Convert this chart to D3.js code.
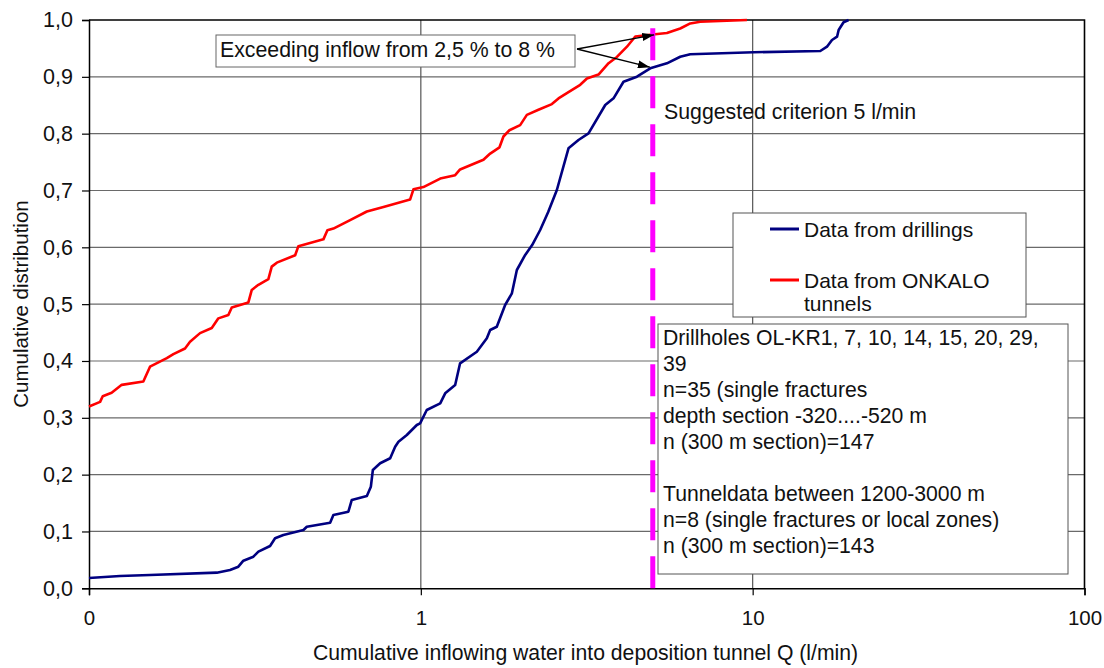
<!DOCTYPE html>
<html><head><meta charset="utf-8">
<script src="https://cdn.jsdelivr.net/npm/d3@7"></script>
<style>
body{margin:0;background:#fff}
svg{display:block}
text{font-family:"Liberation Sans",Arial,Helvetica,sans-serif;fill:#111}
</style>
</head><body>
<svg id="c" width="1104" height="668"></svg>
<script>
// ---------- data ----------
const drillQ = [0.1,0.124,0.1527,0.2427,0.2661,0.2819,0.2919,0.3129,0.324,0.3513,0.3637,0.3852,0.4428,0.4533,0.5329,0.5451,0.6048,0.6194,0.6876,0.707,0.7168,0.7541,0.8084,0.8368,0.8563,0.9074,0.9725,0.995,1.042,1.144,1.184,1.269,1.313,1.475,1.581,1.618,1.694,1.795,1.881,1.947,2.063,2.165,2.289,2.42,2.57,2.786,2.986,3.201,3.595,3.808,4.081,4.479,4.913,5.515,6.049,6.485,10.06,15.99,16.75,17.34,17.96,18.16,18.79,19.46];
const drillF = [0.018,0.0216,0.0234,0.0275,0.0322,0.038,0.0486,0.0556,0.0644,0.0744,0.088,0.0938,0.1026,0.1084,0.1154,0.129,0.1348,0.1554,0.1624,0.1788,0.2082,0.22,0.2288,0.2492,0.258,0.2698,0.2874,0.2903,0.3137,0.3255,0.3431,0.3577,0.3959,0.4163,0.4399,0.4545,0.4603,0.4985,0.5191,0.5601,0.5865,0.604,0.6305,0.6621,0.7009,0.7742,0.7888,0.8006,0.8504,0.8622,0.8914,0.9002,0.915,0.9238,0.9354,0.9396,0.9432,0.9455,0.953,0.9648,0.9706,0.9824,0.996,1.0];
const tunnelQ = [0.1,0.108,0.11,0.117,0.1255,0.1458,0.1527,0.1716,0.1796,0.1947,0.2016,0.2161,0.2344,0.2454,0.263,0.2693,0.3022,0.3094,0.324,0.3472,0.3554,0.3681,0.4181,0.4276,0.5086,0.5229,0.5451,0.6122,0.6876,0.7716,0.928,0.95,1.018,1.144,1.269,1.313,1.544,1.618,1.726,1.774,1.849,1.992,2.087,2.262,2.483,2.599,2.786,3.022,3.166,3.431,3.679,3.899,4.18,4.428,4.913,5.515,6.049,6.485,6.95,9.61];
const tunnelF = [0.32,0.328,0.338,0.344,0.358,0.364,0.39,0.405,0.412,0.422,0.434,0.449,0.458,0.475,0.481,0.494,0.503,0.525,0.534,0.544,0.566,0.573,0.586,0.602,0.614,0.63,0.633,0.648,0.663,0.671,0.684,0.702,0.706,0.721,0.727,0.737,0.754,0.765,0.776,0.795,0.806,0.815,0.833,0.842,0.852,0.862,0.873,0.886,0.897,0.904,0.924,0.935,0.953,0.971,0.974,0.977,0.985,0.994,0.997,1.0];
const seriesNames = ["Data from drillings", "Data from ONKALO", "tunnels"];
const seriesColors = ["#000080", "#ff0000"];
const xTicks = [0.1, 1, 10, 100];
const xTickLabels = ["0", "1", "10", "100"];
const yTicks = [0,0.1,0.2,0.3,0.4,0.5,0.6,0.7,0.8,0.9,1.0];
const yTickLabels = ["0,0","0,1","0,2","0,3","0,4","0,5","0,6","0,7","0,8","0,9","1,0"];
const criterionQ = 5;
const criterionTop = 0.9865;
const arrowTargets = [[5.05, 0.974], [4.9, 0.917]];
const xTitle = "Cumulative inflowing water into deposition tunnel Q (l/min)";
const yTitle = "Cumulative distribution";
const annotationText = "Exceeding inflow from 2,5 % to 8 %";
const criterionText = "Suggested criterion 5 l/min";
const noteLines = ["Drillholes OL-KR1, 7, 10, 14, 15, 20, 29,","39","n=35 (single fractures","depth section -320....-520 m","n (300 m section)=147","","Tunneldata between 1200-3000 m","n=8 (single fractures or local zones)","n (300 m section)=143"];

// ---------- layout ----------
const L = 89, R = 1084.5, T = 20, B = 588.3;
const svg = d3.select("#c");
const x = d3.scaleLog().domain([0.1, 100]).range([L, R]);
const y = d3.scaleLinear().domain([0, 1]).range([B, T]);
const FF = "'Liberation Sans',Arial,sans-serif";

// gridlines
svg.append("g").selectAll("line").data(yTicks.filter(v => v > 0 && v < 1)).join("line")
  .attr("x1", L).attr("x2", R).attr("y1", d => y(d)).attr("y2", d => y(d))
  .attr("stroke", "#6a6a6a").attr("stroke-width", 1.2);
svg.append("g").selectAll("line").data(xTicks.filter(v => v > 0.1 && v < 100)).join("line")
  .attr("y1", T).attr("y2", B).attr("x1", d => x(d)).attr("x2", d => x(d))
  .attr("stroke", "#555").attr("stroke-width", 1.2);

// axes
const xAxis = d3.axisBottom(x).tickValues(xTicks).tickFormat((d, i) => xTickLabels[i]).tickSize(7).tickPadding(15);
const gx = svg.append("g").attr("transform", `translate(0,${B})`).call(xAxis);
gx.select(".domain").attr("stroke", "#000").attr("stroke-width", 1.5);
gx.selectAll(".tick line").attr("stroke", "#000").attr("stroke-width", 1.2);
gx.selectAll("text").attr("font-size", 20.5).attr("fill", "#111").style("font-family", FF);

const yAxis = d3.axisLeft(y).tickValues(yTicks).tickFormat((d, i) => yTickLabels[i]).tickSize(7).tickPadding(9);
const gy = svg.append("g").attr("transform", `translate(${L},0)`).call(yAxis);
gy.select(".domain").attr("stroke", "#000").attr("stroke-width", 1.5);
gy.selectAll(".tick line").attr("stroke", "#000").attr("stroke-width", 1.2);
gy.selectAll("text").attr("font-size", 21.5).attr("fill", "#111").style("font-family", FF);

// frame top/right
svg.append("path").attr("d", `M${L},${T}H${R}V${B}`).attr("fill", "none").attr("stroke", "#000").attr("stroke-width", 1.6);

// curves
const line = d3.line().x(d => x(d[0])).y(d => y(d[1]));
const drill = drillQ.map((q, i) => [q, drillF[i]]);
const tunnel = tunnelQ.map((q, i) => [q, tunnelF[i]]);
svg.append("path").datum(drill).attr("d", line).attr("fill", "none")
  .attr("stroke", seriesColors[0]).attr("stroke-width", 2.6).attr("stroke-linejoin", "round");
svg.append("path").datum(tunnel).attr("d", line).attr("fill", "none")
  .attr("stroke", seriesColors[1]).attr("stroke-width", 2.6).attr("stroke-linejoin", "round");

// criterion line
svg.append("path").datum([[criterionQ, 0], [criterionQ, criterionTop]]).attr("d", line)
  .attr("fill", "none").attr("stroke", "#ff00ff").attr("stroke-width", 5).attr("stroke-dasharray", "32,16");

// annotation box + arrows
const defs = svg.append("defs");
defs.append("marker").attr("id", "ah").attr("viewBox", "0 0 12 8").attr("refX", 12).attr("refY", 4)
  .attr("markerWidth", 12).attr("markerHeight", 8).attr("markerUnits", "userSpaceOnUse").attr("orient", "auto")
  .append("path").attr("d", "M0,0L12,4L0,8z").attr("fill", "#000");
const ax0 = 577, ay0 = 49;
svg.append("g").selectAll("line").data(arrowTargets).join("line")
  .attr("x1", ax0).attr("y1", ay0).attr("x2", d => x(d[0])).attr("y2", d => y(d[1]))
  .attr("stroke", "#000").attr("stroke-width", 1.3).attr("marker-end", "url(#ah)");
svg.append("rect").attr("x", 216).attr("y", 35).attr("width", 359).attr("height", 32)
  .attr("fill", "#fff").attr("stroke", "#666").attr("stroke-width", 1);
svg.append("text").attr("x", 220).attr("y", 57).attr("font-size", 21.3).text(annotationText);

svg.append("text").attr("x", 664).attr("y", 119).attr("font-size", 21.3).text(criterionText);

// legend
const lg = svg.append("g");
lg.append("rect").attr("x", 733).attr("y", 213).attr("width", 293).attr("height", 104)
  .attr("fill", "#fff").attr("stroke", "#555").attr("stroke-width", 1);
lg.append("line").attr("x1", 770).attr("x2", 799).attr("y1", 229).attr("y2", 229).attr("stroke", seriesColors[0]).attr("stroke-width", 3);
lg.append("text").attr("x", 804).attr("y", 236.5).attr("font-size", 21).text(seriesNames[0]);
lg.append("line").attr("x1", 770).attr("x2", 799).attr("y1", 280).attr("y2", 280).attr("stroke", seriesColors[1]).attr("stroke-width", 3);
lg.append("text").attr("x", 804).attr("y", 288).attr("font-size", 21).text(seriesNames[1]);
lg.append("text").attr("x", 804).attr("y", 311).attr("font-size", 21).text(seriesNames[2]);

// notes box
const ng = svg.append("g");
ng.append("rect").attr("x", 658).attr("y", 324).attr("width", 410).attr("height", 250)
  .attr("fill", "#fff").attr("stroke", "#555").attr("stroke-width", 1);
ng.selectAll("text").data(noteLines).join("text")
  .attr("x", 663).attr("y", (d, i) => 345 + i * 26).attr("font-size", 21.2).text(d => d);

// axis titles
svg.append("text").attr("x", 585.5).attr("y", 660).attr("text-anchor", "middle").attr("font-size", 21.2).text(xTitle);
svg.append("text").attr("transform", "translate(28,304) rotate(-90)").attr("text-anchor", "middle").attr("font-size", 20.5).text(yTitle);
</script>
</body></html>
